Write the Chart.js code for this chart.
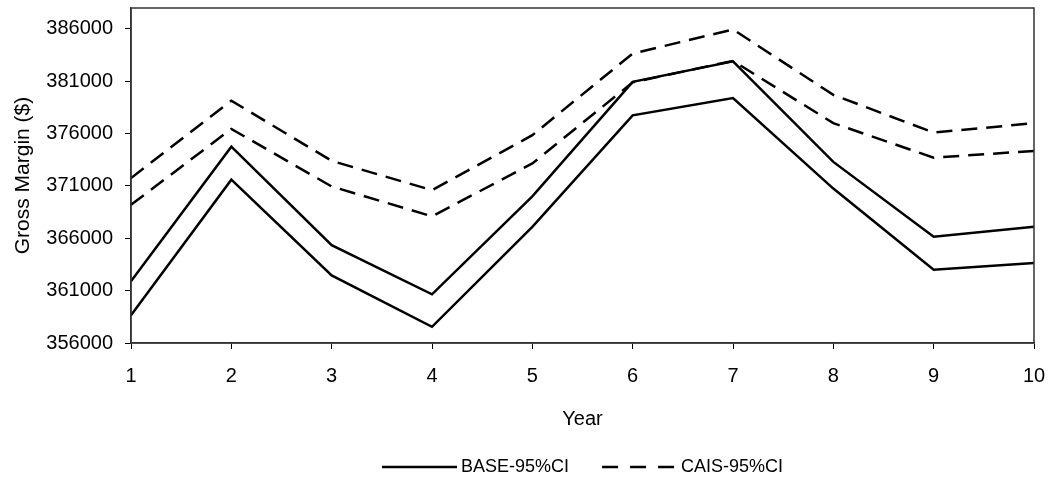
<!DOCTYPE html>
<html>
<head>
<meta charset="utf-8">
<script src="https://cdn.jsdelivr.net/npm/chart.js@4.4.1/dist/chart.umd.min.js"></script>
<style>
  html, body { margin: 0; padding: 0; background: #fff; }
  #wrap { width: 1052px; height: 483px; }
</style>
</head>
<body>
<div id="wrap"><canvas id="c" width="1052" height="483"></canvas></div>
<script>
const years = ['1', '2', '3', '4', '5', '6', '7', '8', '9', '10'];
const baseUpper = [361900, 374750, 365350, 360650, 370000, 380950, 382900, 373300, 366150, 367100];
const baseLower = [358650, 371600, 362450, 357550, 367100, 377750, 379400, 370750, 363000, 363650];
const caisUpper = [371750, 379150, 373400, 370600, 375850, 383650, 385950, 379700, 376100, 377000];
const caisLower = [369200, 376450, 370950, 368100, 373150, 380900, 382950, 377000, 373700, 374350];
const yTicks = [356000, 361000, 366000, 371000, 376000, 381000, 386000];
const yMin = 356000, yMax = 388000;

const FONT = 'Liberation Sans, Arial, sans-serif';
const dash = [16, 9];

function ds(label, data, dashed) {
  return {
    label: label,
    data: data,
    borderColor: '#000',
    backgroundColor: '#000',
    borderWidth: 2.5,
    borderDash: dashed ? dash : [],
    pointRadius: 0,
    pointHoverRadius: 0,
    tension: 0,
    fill: false
  };
}

// legend sample images (line drawn in the right 75px of an 80px canvas)
function sample(dashed) {
  const cv = document.createElement('canvas');
  cv.width = 80; cv.height = 6;
  const c = cv.getContext('2d');
  c.strokeStyle = '#000';
  c.lineWidth = 2.5;
  c.setLineDash(dashed ? [16, 12] : []);
  c.beginPath();
  c.moveTo(5, 3); c.lineTo(80, 3);
  c.stroke();
  return cv;
}
const samples = [sample(false), sample(true)];

const frame = {
  id: 'frame',
  afterDraw(chart) {
    const a = chart.chartArea, ctx = chart.ctx;
    ctx.save();
    ctx.strokeStyle = '#333';
    ctx.lineWidth = 1.5;
    ctx.setLineDash([]);
    ctx.strokeRect(a.left, a.top, a.right - a.left, a.bottom - a.top);
    ctx.restore();
  }
};

new Chart(document.getElementById('c'), {
  type: 'line',
  data: {
    labels: years,
    datasets: [
      ds('BASE-95%CI', baseUpper, false),
      ds('BASE-95%CI', baseLower, false),
      ds('CAIS-95%CI', caisUpper, true),
      ds('CAIS-95%CI', caisLower, true)
    ]
  },
  options: {
    responsive: false,
    animation: false,
    layout: { padding: { top: 8, right: 18, left: 0, bottom: -3 } },
    plugins: {
      tooltip: { enabled: false },
      legend: {
        position: 'bottom',
        fullSize: false,
        labels: {
          generateLabels: (chart) => {
            const items = Chart.defaults.plugins.legend.labels.generateLabels(chart)
              .filter(it => it.datasetIndex % 2 === 0);
            items.forEach((it, i) => { it.pointStyle = samples[i]; });
            return items;
          },
          usePointStyle: true,
          pointStyleWidth: 70,
          boxWidth: 70,
          boxHeight: 18,
          padding: 33,
          color: '#000',
          font: { family: FONT, size: 18 }
        }
      }
    },
    scales: {
      x: {
        type: 'category',
        offset: false,
        grid: { display: true, drawOnChartArea: false, drawTicks: true, tickLength: 6, color: '#000', lineWidth: 1 },
        border: { display: true, color: '#333', width: 1.5 },
        ticks: { color: '#000', padding: 15, maxRotation: 0, autoSkip: false, font: { family: FONT, size: 20 } },
        title: { display: true, text: 'Year', color: '#000', padding: { top: 0, bottom: -6 }, font: { family: FONT, size: 20 } },
        afterFit: (s) => { s.height = 82; s.paddingLeft = 0; s.paddingRight = 0; }
      },
      y: {
        type: 'linear',
        min: yMin,
        max: yMax,
        grid: { display: true, drawOnChartArea: false, drawTicks: true, tickLength: 6, color: '#000', lineWidth: 1 },
        border: { display: true, color: '#333', width: 1.5 },
        afterBuildTicks: (s) => { s.ticks = yTicks.map(v => ({ value: v })); },
        ticks: { color: '#000', padding: 12, font: { family: FONT, size: 20 }, callback: (v) => String(v) },
        title: { display: true, text: 'Gross Margin ($)', color: '#000', padding: { top: 11, bottom: 0 }, font: { family: FONT, size: 21 } },
        afterFit: (s) => { s.width = 131; s.paddingTop = 0; s.paddingBottom = 0; }
      }
    }
  },
  plugins: [frame]
});
</script>
</body>
</html>
